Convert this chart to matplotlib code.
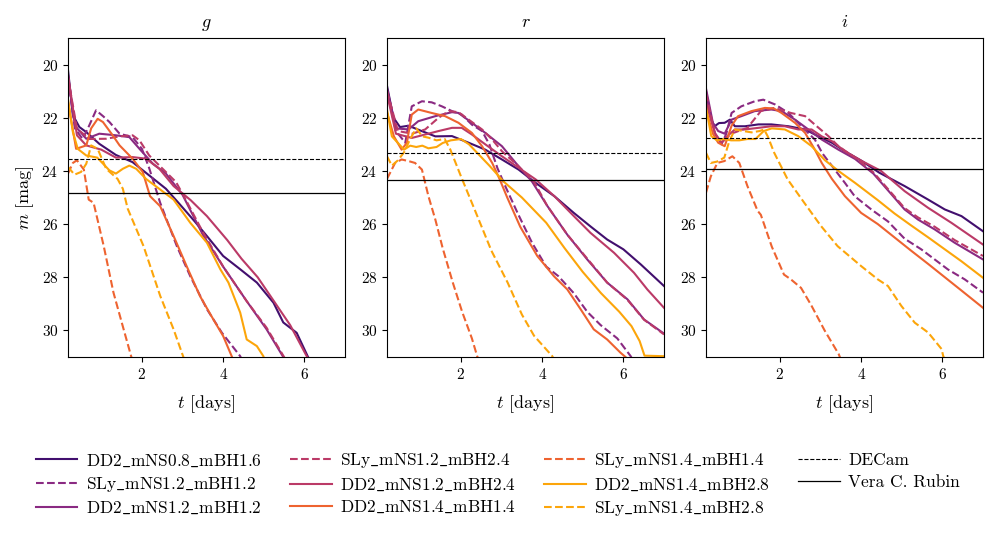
import matplotlib
matplotlib.use('Agg')
import matplotlib.pyplot as plt

plt.rcParams['font.family'] = 'serif'
plt.rcParams['font.serif'] = ['cmr10', 'DejaVu Serif']
plt.rcParams['mathtext.fontset'] = 'cm'
plt.rcParams['axes.formatter.use_mathtext'] = True
plt.rcParams['axes.unicode_minus'] = False

# ---------------- data ----------------
bands = ['g', 'r', 'i']
model_names = ['DD2_mNS0.8_mBH1.6', 'SLy_mNS1.2_mBH1.2', 'DD2_mNS1.2_mBH1.2',
               'SLy_mNS1.2_mBH2.4', 'DD2_mNS1.2_mBH2.4', 'DD2_mNS1.4_mBH1.4',
               'SLy_mNS1.4_mBH1.4', 'DD2_mNS1.4_mBH2.8', 'SLy_mNS1.4_mBH2.8']
decam_limits = [23.57, 23.33, 22.78]
rubin_limits = [24.82, 24.36, 23.92]
x_ticks = [2, 4, 6]
y_ticks = [20, 22, 24, 26, 28, 30]

# ---- g band ----
g_DD2_08_16_t = [0.18, 0.3, 0.46, 0.63, 0.95, 1.36, 1.77, 2.18, 2.59, 2.9, 3.3, 3.6, 4.0, 4.42, 4.83, 5.24, 5.48, 5.81, 6.09, 6.25]
g_DD2_08_16_m = [20.2, 21.9, 22.35, 22.54, 22.98, 23.4, 23.67, 24.17, 24.67, 25.2, 25.9, 26.45, 27.2, 27.7, 28.2, 28.96, 29.7, 30.09, 31.0, 31.4]
g_SLy_12_12_t = [0.18, 0.35, 0.54, 0.7, 0.87, 1.05, 1.2, 1.45, 1.77, 2.0, 2.18, 2.45, 2.86, 3.19, 3.6, 3.97, 4.42, 4.55]
g_SLy_12_12_m = [20.5, 22.4, 22.8, 22.3, 21.72, 21.95, 22.16, 22.6, 22.73, 23.17, 23.9, 25.2, 26.83, 27.96, 29.2, 30.09, 30.97, 31.4]
g_DD2_12_12_t = [0.18, 0.35, 0.63, 0.95, 1.36, 1.69, 1.94, 2.27, 2.59, 3.0, 3.5, 4.0, 4.58, 5.07, 5.48, 5.6]
g_DD2_12_12_m = [20.4, 22.3, 22.79, 22.6, 22.66, 22.73, 23.17, 23.73, 24.1, 24.9, 26.4, 27.6, 28.9, 29.96, 31.0, 31.3]
g_SLy_12_24_t = [0.18, 0.4, 0.7, 1.12, 1.45, 1.77, 1.94, 2.18, 2.51, 2.84, 3.05, 3.5, 4.0, 4.58, 5.07, 5.5, 5.6]
g_SLy_12_24_m = [20.5, 22.4, 22.8, 22.79, 22.7, 22.66, 22.85, 23.42, 23.92, 24.42, 25.0, 26.3, 27.6, 28.9, 29.9, 31.0, 31.3]
g_DD2_12_24_t = [0.18, 0.4, 0.63, 1.0, 1.36, 1.77, 2.1, 2.43, 2.78, 3.2, 3.6, 4.1, 4.45, 4.85, 5.25, 5.65, 6.05, 6.2]
g_DD2_12_24_m = [20.4, 22.66, 23.04, 23.2, 23.5, 23.48, 23.54, 23.92, 24.57, 25.1, 25.7, 26.6, 27.3, 28.0, 28.9, 29.8, 30.95, 31.3]
g_DD2_14_14_t = [0.18, 0.38, 0.63, 0.75, 0.91, 1.04, 1.28, 1.45, 1.77, 2.02, 2.2, 2.45, 2.78, 3.1, 3.43, 3.76, 4.0, 4.21, 4.3]
g_DD2_14_14_m = [21.4, 23.17, 23.04, 22.4, 22.04, 22.16, 22.66, 23.04, 23.54, 24.04, 24.95, 25.33, 26.45, 27.58, 28.71, 29.59, 30.21, 30.97, 31.3]
g_SLy_14_14_t = [0.18, 0.3, 0.4, 0.57, 0.69, 0.81, 1.06, 1.3, 1.55, 1.74, 1.8]
g_SLy_14_14_m = [24.1, 23.7, 23.6, 23.95, 25.08, 25.2, 26.83, 28.58, 29.96, 31.0, 31.3]
g_DD2_14_28_t = [0.18, 0.3, 0.42, 0.63, 0.9, 1.2, 1.36, 1.53, 1.69, 1.86, 2.1, 2.45, 2.78, 3.19, 3.6, 3.93, 4.13, 4.42, 4.58, 4.83, 4.99, 5.05]
g_DD2_14_28_m = [21.3, 22.54, 23.17, 23.42, 23.5, 23.98, 24.1, 23.92, 23.8, 23.92, 24.3, 24.7, 25.08, 25.95, 26.7, 27.7, 28.2, 29.33, 30.34, 30.59, 30.97, 31.3]
g_SLy_14_28_t = [0.18, 0.34, 0.5, 0.63, 0.75, 0.91, 1.12, 1.4, 1.53, 1.65, 2.04, 2.45, 2.78, 3.02, 3.1]
g_SLy_14_28_m = [23.85, 24.14, 24.04, 23.73, 23.04, 23.17, 23.92, 24.3, 24.67, 25.42, 26.83, 28.7, 29.96, 31.0, 31.3]

# ---- r band ----
r_DD2_08_16_t = [0.18, 0.34, 0.5, 0.71, 1.0, 1.37, 1.78, 2.19, 2.6, 3.01, 3.42, 3.84, 4.3, 4.78, 5.2, 5.6, 6.0, 6.43, 7.0]
r_DD2_08_16_m = [20.8, 22.0, 22.35, 22.3, 22.48, 22.7, 22.69, 22.94, 23.2, 23.57, 23.95, 24.45, 24.95, 25.58, 26.1, 26.58, 26.95, 27.52, 28.33]
r_SLy_12_12_t = [0.18, 0.4, 0.63, 0.79, 1.04, 1.28, 1.53, 1.78, 2.02, 2.27, 2.52, 2.7, 2.9, 3.1, 3.4, 3.75, 4.1, 4.4, 4.78, 5.11, 5.44, 5.85, 6.18, 6.3]
r_SLy_12_12_m = [21.0, 22.5, 22.94, 21.57, 21.38, 21.42, 21.57, 21.75, 21.88, 22.26, 22.5, 23.0, 23.9, 24.6, 25.6, 26.7, 27.6, 27.96, 28.6, 29.3, 29.8, 30.3, 30.97, 31.3]
r_DD2_12_12_t = [0.18, 0.4, 0.71, 0.95, 1.37, 1.78, 1.94, 2.27, 2.6, 3.01, 3.35, 3.75, 4.12, 4.62, 5.11, 5.6, 6.1, 6.51, 7.0]
r_DD2_12_12_m = [20.9, 22.4, 22.44, 22.13, 21.94, 21.79, 21.82, 22.19, 22.57, 23.07, 23.7, 24.4, 25.3, 26.4, 27.33, 28.2, 28.83, 29.59, 30.12]
r_SLy_12_24_t = [0.18, 0.45, 0.8, 1.12, 1.45, 1.7, 1.94, 2.19, 2.52, 2.77, 3.01, 3.4, 3.8, 4.12, 4.62, 5.11, 5.6, 6.1, 6.51, 7.0]
r_SLy_12_24_m = [21.0, 22.5, 22.6, 22.44, 22.0, 21.75, 21.79, 22.07, 22.44, 22.82, 23.26, 23.8, 24.4, 25.3, 26.4, 27.3, 28.2, 28.85, 29.6, 30.15]
r_DD2_12_24_t = [0.18, 0.4, 0.79, 1.12, 1.45, 1.78, 2.02, 2.27, 2.6, 3.01, 3.42, 3.84, 4.3, 4.78, 5.19, 5.77, 6.26, 6.59, 7.0]
r_DD2_12_24_m = [21.1, 22.6, 22.76, 22.63, 22.5, 22.38, 22.38, 22.63, 23.0, 23.45, 23.88, 24.32, 24.95, 25.7, 26.33, 27.08, 27.83, 28.46, 29.15]
r_DD2_14_14_t = [0.18, 0.35, 0.54, 0.67, 0.79, 0.95, 1.28, 1.61, 1.94, 2.27, 2.52, 2.77, 2.95, 3.14, 3.46, 3.88, 4.29, 4.62, 4.95, 5.27, 5.6, 5.93, 6.09, 6.2]
r_DD2_14_14_m = [21.8, 22.7, 23.2, 22.94, 21.88, 21.69, 21.82, 21.94, 22.19, 22.57, 23.07, 23.7, 24.3, 25.0, 26.1, 27.2, 27.96, 28.46, 29.21, 29.96, 30.34, 30.84, 31.05, 31.3]
r_SLy_14_14_t = [0.18, 0.38, 0.54, 0.71, 0.87, 1.04, 1.2, 1.37, 1.55, 1.8, 2.03, 2.27, 2.4, 2.5]
r_SLy_14_14_m = [24.3, 23.7, 23.57, 23.63, 23.7, 23.95, 24.95, 25.83, 26.9, 28.2, 29.3, 30.3, 30.97, 31.3]
r_DD2_14_28_t = [0.18, 0.3, 0.45, 0.6, 0.75, 0.9, 1.05, 1.2, 1.4, 1.55, 1.75, 2.0, 2.2, 2.45, 2.7, 3.05, 3.5, 4.1, 4.55, 5.0, 5.45, 5.9, 6.2, 6.4, 6.52, 7.0]
r_DD2_14_28_m = [21.7, 22.7, 22.95, 23.2, 23.05, 23.1, 23.05, 23.15, 23.1, 22.95, 22.85, 22.8, 23.0, 23.4, 23.8, 24.4, 25.0, 25.95, 26.9, 27.8, 28.6, 29.3, 29.84, 30.4, 30.95, 30.97]
r_SLy_14_28_t = [0.18, 0.3, 0.45, 0.6, 0.75, 0.9, 1.05, 1.2, 1.4, 1.6, 1.74, 2.0, 2.35, 2.75, 3.15, 3.5, 3.8, 4.25, 4.35]
r_SLy_14_28_m = [23.45, 23.8, 23.6, 23.3, 22.8, 22.4, 22.7, 22.75, 22.85, 22.8, 23.2, 24.2, 25.5, 27.0, 28.2, 29.4, 30.2, 30.97, 31.3]

# ---- i band ----
i_DD2_08_16_t = [0.18, 0.31, 0.39, 0.5, 0.64, 0.77, 0.89, 1.14, 1.47, 1.79, 2.21, 2.62, 2.95, 3.28, 3.6, 4.02, 4.45, 5.07, 5.65, 6.06, 6.47, 7.0]
i_DD2_08_16_m = [21.0, 22.07, 22.32, 22.2, 22.19, 22.07, 22.32, 22.32, 22.25, 22.25, 22.32, 22.44, 22.7, 22.94, 23.26, 23.63, 24.07, 24.57, 25.08, 25.45, 25.7, 26.27]
i_SLy_12_12_t = [0.18, 0.4, 0.56, 0.68, 0.81, 1.05, 1.38, 1.59, 1.88, 2.21, 2.53, 2.86, 3.05, 3.3, 3.6, 3.84, 4.25, 4.66, 5.07, 5.48, 5.81, 6.14, 6.55, 7.0]
i_SLy_12_12_m = [21.3, 22.6, 23.0, 22.6, 21.82, 21.57, 21.38, 21.32, 21.5, 21.82, 22.32, 22.82, 23.35, 23.85, 24.45, 24.95, 25.45, 25.9, 26.55, 26.95, 27.33, 27.71, 28.08, 28.58]
i_DD2_12_12_t = [0.18, 0.35, 0.48, 0.64, 0.81, 1.05, 1.38, 1.79, 2.04, 2.37, 2.7, 3.03, 3.44, 3.85, 4.3, 4.7, 5.07, 5.4, 5.81, 6.3, 7.0]
i_DD2_12_12_m = [20.9, 22.2, 22.5, 22.6, 22.07, 21.94, 21.75, 21.69, 21.75, 22.07, 22.44, 22.82, 23.2, 23.55, 24.1, 24.8, 25.45, 25.83, 26.2, 26.7, 27.33]
i_SLy_12_24_t = [0.18, 0.4, 0.56, 0.8, 1.2, 1.53, 1.86, 2.27, 2.62, 2.93, 3.2, 3.44, 3.85, 4.3, 4.7, 5.07, 5.4, 5.81, 6.3, 7.0]
i_SLy_12_24_m = [21.1, 22.6, 22.95, 22.6, 22.38, 21.75, 21.63, 21.82, 21.94, 22.35, 22.7, 23.07, 23.5, 24.05, 24.75, 25.4, 25.75, 26.1, 26.6, 27.2]
i_DD2_12_24_t = [0.18, 0.4, 0.56, 0.7, 0.89, 1.14, 1.47, 1.79, 2.12, 2.45, 2.78, 3.03, 3.28, 3.6, 4.02, 4.49, 5.07, 5.65, 6.22, 7.0]
i_DD2_12_24_m = [21.44, 22.57, 22.94, 22.7, 22.44, 22.44, 22.38, 22.32, 22.32, 22.44, 22.44, 22.7, 22.88, 23.26, 23.63, 24.0, 24.76, 25.39, 25.95, 26.77]
i_DD2_14_14_t = [0.18, 0.35, 0.48, 0.64, 0.81, 0.97, 1.3, 1.63, 1.85, 2.04, 2.37, 2.62, 2.86, 3.03, 3.28, 3.6, 4.0, 4.41, 4.82, 5.23, 5.65, 6.06, 6.47, 7.0]
i_DD2_14_14_m = [21.69, 22.6, 22.94, 23.07, 22.3, 21.94, 21.75, 21.63, 21.65, 21.82, 22.19, 22.57, 23.2, 23.7, 24.3, 24.95, 25.58, 26.0, 26.5, 27.0, 27.5, 28.0, 28.5, 29.15]
i_SLy_14_14_t = [0.18, 0.3, 0.46, 0.63, 0.83, 1.0, 1.2, 1.45, 1.53, 1.8, 2.1, 2.27, 2.52, 2.77, 3.1, 3.45, 3.55]
i_SLy_14_14_m = [24.82, 24.2, 23.7, 23.63, 23.45, 23.7, 24.57, 25.5, 25.65, 26.85, 27.9, 28.08, 28.4, 29.05, 30.0, 30.9, 31.3]
i_DD2_14_28_t = [0.18, 0.31, 0.45, 0.6, 0.8, 1.0, 1.2, 1.4, 1.6, 1.8, 2.12, 2.45, 2.78, 3.11, 3.44, 3.85, 4.41, 4.82, 5.23, 5.65, 6.06, 6.47, 7.0]
i_DD2_14_28_m = [21.6, 22.69, 22.85, 22.8, 22.85, 22.85, 22.8, 22.8, 22.5, 22.4, 22.44, 22.69, 23.07, 23.6, 24.0, 24.45, 25.1, 25.6, 26.05, 26.5, 26.95, 27.4, 28.02]
i_SLy_14_28_t = [0.18, 0.3, 0.45, 0.63, 0.75, 0.89, 1.1, 1.3, 1.5, 1.61, 1.7, 1.86, 2.19, 2.6, 3.01, 3.42, 4.0, 4.41, 4.66, 4.99, 5.32, 5.65, 5.98, 6.02, 6.1]
i_SLy_14_28_m = [23.32, 23.7, 23.65, 23.5, 22.9, 22.44, 22.5, 22.55, 22.5, 22.44, 22.7, 23.32, 24.32, 25.2, 26.07, 26.83, 27.58, 28.08, 28.33, 29.08, 29.71, 30.08, 30.7, 30.96, 31.3]

series = {
    'g': [(g_DD2_08_16_t, g_DD2_08_16_m), (g_SLy_12_12_t, g_SLy_12_12_m), (g_DD2_12_12_t, g_DD2_12_12_m),
          (g_SLy_12_24_t, g_SLy_12_24_m), (g_DD2_12_24_t, g_DD2_12_24_m), (g_DD2_14_14_t, g_DD2_14_14_m),
          (g_SLy_14_14_t, g_SLy_14_14_m), (g_DD2_14_28_t, g_DD2_14_28_m), (g_SLy_14_28_t, g_SLy_14_28_m)],
    'r': [(r_DD2_08_16_t, r_DD2_08_16_m), (r_SLy_12_12_t, r_SLy_12_12_m), (r_DD2_12_12_t, r_DD2_12_12_m),
          (r_SLy_12_24_t, r_SLy_12_24_m), (r_DD2_12_24_t, r_DD2_12_24_m), (r_DD2_14_14_t, r_DD2_14_14_m),
          (r_SLy_14_14_t, r_SLy_14_14_m), (r_DD2_14_28_t, r_DD2_14_28_m), (r_SLy_14_28_t, r_SLy_14_28_m)],
    'i': [(i_DD2_08_16_t, i_DD2_08_16_m), (i_SLy_12_12_t, i_SLy_12_12_m), (i_DD2_12_12_t, i_DD2_12_12_m),
          (i_SLy_12_24_t, i_SLy_12_24_m), (i_DD2_12_24_t, i_DD2_12_24_m), (i_DD2_14_14_t, i_DD2_14_14_m),
          (i_SLy_14_14_t, i_SLy_14_14_m), (i_DD2_14_28_t, i_DD2_14_28_m), (i_SLy_14_28_t, i_SLy_14_28_m)],
}

# ---------------- styles ----------------
colors = ['#420f6e', '#8a2a82', '#8a2a82', '#bb3a67', '#bb3a67',
          '#ee6330', '#ee6330', '#fca50a', '#fca50a']
styles = ['-', '--', '-', '--', '-', '-', '--', '-', '--']


def tex_label(s):
    return r'$\mathrm{' + s.replace('_', r'\_') + '}$'


fig = plt.figure(figsize=(9.96, 5.36), dpi=100)
lefts = [68 / 996, 387 / 996, 706 / 996]
axes = []
for k, band in enumerate(bands):
    ax = fig.add_axes([lefts[k], 1 - 357 / 536, 277 / 996, 319 / 536])
    axes.append(ax)
    for j, (t, m) in enumerate(series[band]):
        ax.plot(t, m, color=colors[j], ls=styles[j], lw=1.5, label=tex_label(model_names[j]))
    ax.axhline(decam_limits[k], color='black', ls='--', lw=0.8, label='DECam')
    ax.axhline(rubin_limits[k], color='black', ls='-', lw=0.9, label='Vera C. Rubin')
    ax.set_xlim(0.18, 7.0)
    ax.set_ylim(31, 19)
    ax.set_xticks(x_ticks)
    ax.set_yticks(y_ticks)
    ax.tick_params(labelsize=11)
    ax.set_title('$' + band + '$', fontsize=13, pad=8)
    ax.set_xlabel('$t$ [days]', fontsize=13, labelpad=8)
    if k == 0:
        ax.set_ylabel('$m$ [mag]', fontsize=13)

handles, labels = axes[0].get_legend_handles_labels()
fig.legend(handles, labels, loc='upper center', bbox_to_anchor=(0.5, 0.187), ncol=4,
           frameon=False, fontsize=12.5, handlelength=2.4, handletextpad=0.5,
           columnspacing=1.6, labelspacing=0.35)

fig.savefig('out.png', dpi=100)
